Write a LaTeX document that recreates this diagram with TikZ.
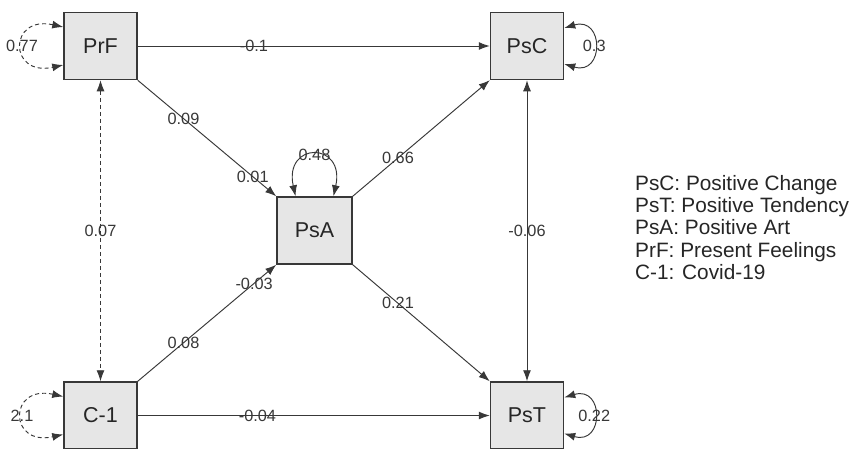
\documentclass[tikz,border=0pt]{standalone}
\usepackage{fontspec}
\setmainfont{Liberation Sans}
\usetikzlibrary{arrows.meta,calc}
\definecolor{boxfill}{HTML}{E6E6E6}
\definecolor{ink}{HTML}{383838}
\begin{document}
\begin{tikzpicture}[x=1pt,y=-1pt,
  var/.style={draw=ink,fill=boxfill,line width=1.5pt,minimum width=73pt,minimum height=67pt,inner sep=0pt,font=\fontsize{21.5}{24}\selectfont,text=black!85},
  tip/.tip={Latex[length=11pt,width=8pt]},
  conn/.style={draw=ink,line width=0.95pt,-tip},
  biconn/.style={draw=ink,line width=0.95pt,tip-tip},
  dsh/.style={dash pattern=on 4pt off 3pt},
  lab/.style={font=\fontsize{16.3}{18}\selectfont,text=ink,inner sep=1pt},
]
\useasboundingbox (0,0) rectangle (862,448);
\fill[white] (0,0) rectangle (862,448);

\node[var] (PrF) at (100.5,46) {PrF};
\node[var] (PsC) at (527,46) {PsC};
\node[var,minimum width=75pt] (PsA) at (314.5,230.5) {PsA};
\node[var] (C1) at (100.5,415.5) {C-1};
\node[var] (PsT) at (527,415.5) {PsT};

% directed paths
\draw[conn] (PrF) -- node[lab,pos=0.33]{-0.1} (PsC);
\draw[conn] (C1) -- node[lab,pos=0.34]{-0.04} (PsT);
\draw[conn] (PrF.south east) -- node[lab,pos=0.33]{0.09} node[lab,pos=0.83]{0.01} (PsA.north west);
\draw[conn] (C1.north east) -- node[lab,pos=0.33]{0.08} node[lab,pos=0.84]{-0.03} (PsA.south west);
\draw[conn] (PsA.north east) -- node[lab,pos=0.33]{0.66} (PsC.south west);
\draw[conn] (PsA.south east) -- node[lab,pos=0.33]{0.21} (PsT.north west);

% covariances
\draw[biconn,dsh] (PrF) -- node[lab]{0.07} (C1);
\draw[biconn] (PsC) -- node[lab]{-0.06} (PsT);

% variances
\draw[biconn,dsh] ([yshift=19pt]PrF.west) .. controls +(-55,-12) and +(-55,12) .. node[lab,pos=0.5]{0.77} ([yshift=-19pt]PrF.west);
\draw[biconn,dsh] ([yshift=19pt]C1.west) .. controls +(-55,-12) and +(-55,12) .. node[lab,pos=0.5]{2.1} ([yshift=-19pt]C1.west);
\draw[biconn] ([yshift=18pt]PsC.east) .. controls +(40,-12) and +(40,12) .. node[lab,pos=0.5]{0.3} ([yshift=-18pt]PsC.east);
\draw[biconn] ([yshift=18pt]PsT.east) .. controls +(40,-12) and +(40,12) .. node[lab,pos=0.5]{0.22} ([yshift=-18pt]PsT.east);
\draw[biconn] ([xshift=-19pt]PsA.north) .. controls +(-12,-55) and +(12,-55) .. node[lab,pos=0.5]{0.48} ([xshift=19pt]PsA.north);

% legend
\node[anchor=west,align=left,inner sep=0pt,font=\fontsize{20.8}{22.3}\selectfont,text=black!85] (legend) at (635,227.5)
  {PsC: Positive Change\\PsT: Positive Tendency\\PsA: Positive Art\\PrF: Present Feelings\\C-1: Covid-19};
\end{tikzpicture}
\end{document}
